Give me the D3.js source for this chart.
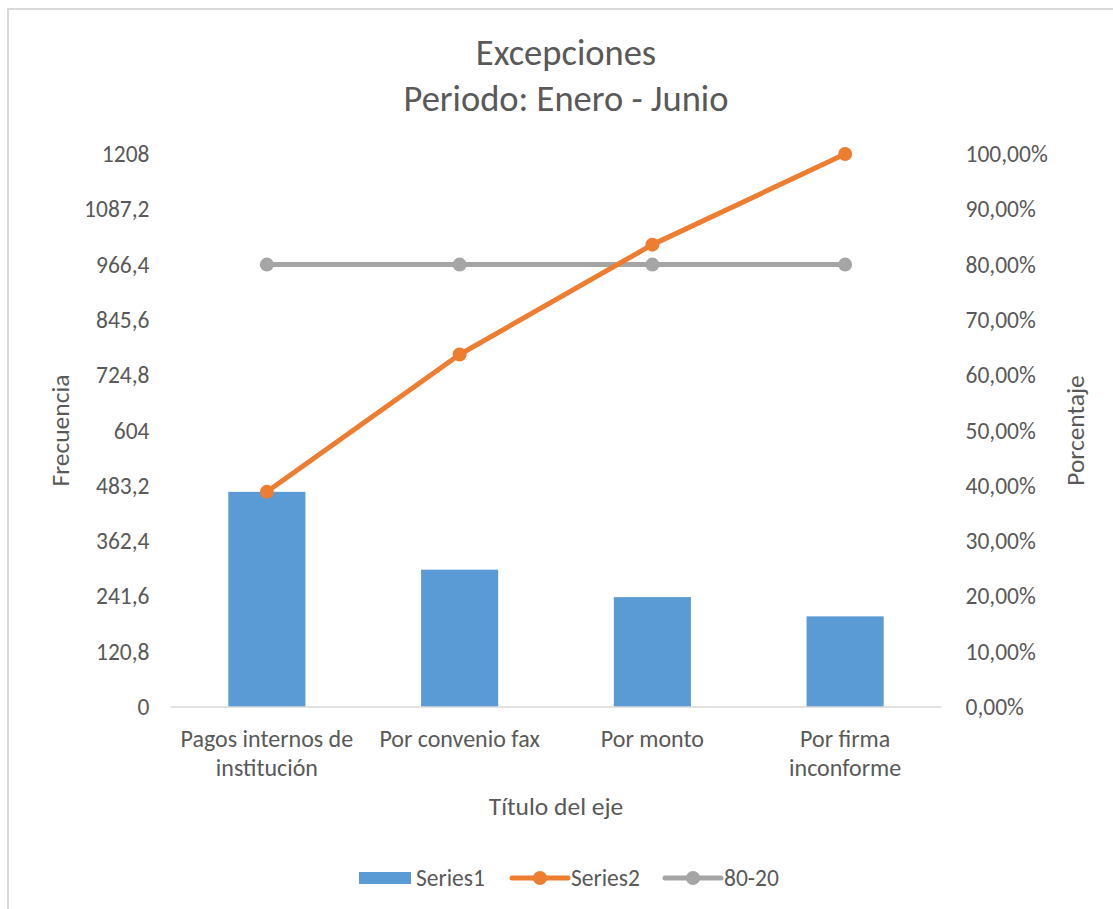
<!DOCTYPE html>
<html>
<head>
<meta charset="utf-8">
<script src="https://cdn.jsdelivr.net/npm/d3@7"></script>
<style>
  body { margin: 0; background: #fff; }
  text { font-family: Carlito, "Liberation Sans", Roboto, sans-serif; fill: #595959; }
</style>
</head>
<body>
<div id="chart"></div>
<script>
// data
const categories = ['Pagos internos de\ninstitución', 'Por convenio fax', 'Por monto', 'Por firma\ninconforme'];
const frequency = [470, 300, 240, 198];
const cumulative = [0.3891, 0.6374, 0.8361, 1.0];
const rule8020 = [0.8, 0.8, 0.8, 0.8];
const leftTicks = [0, 120.8, 241.6, 362.4, 483.2, 604, 724.8, 845.6, 966.4, 1087.2, 1208];
const rightTicks = [0, 0.1, 0.2, 0.3, 0.4, 0.5, 0.6, 0.7, 0.8, 0.9, 1.0];
const seriesNames = ['Series1', 'Series2', '80-20'];
const colors = ['#5b9bd5', '#ed7d31', '#a5a5a5'];

const width = 1113;
const height = 909;
const plot = { left: 170.5, right: 941.5, top: 154, bottom: 707 };

const locale = d3.formatLocale({ decimal: ',', thousands: '.', grouping: [3], currency: ['', '€'] });
const fmtLeft = (d) => (Number.isInteger(d) ? String(d) : locale.format('.1f')(d));
const fmtRight = locale.format('.2%');

const svg = d3.select('#chart').append('svg').attr('width', width).attr('height', height);

// chart frame (cropped on right and bottom)
svg.append('rect').attr('x', 8).attr('y', 9).attr('width', 1130).attr('height', 930)
  .attr('fill', '#fff').attr('stroke', '#d9d9d9').attr('stroke-width', 2);

const x = d3.scaleBand().domain(categories).range([plot.left, plot.right]).paddingInner(0.6).paddingOuter(0.3);
const xPoint = (c) => x(c) + x.bandwidth() / 2;
const yLeft = d3.scaleLinear().domain([0, 1208]).range([plot.bottom, plot.top]);
const yRight = d3.scaleLinear().domain([0, 1]).range([plot.bottom, plot.top]);

// title
const title = svg.append('text').attr('text-anchor', 'middle').attr('font-size', 36.5);
title.append('tspan').attr('x', 566).attr('y', 65).text('Excepciones');
title.append('tspan').attr('x', 566).attr('y', 111).text('Periodo: Enero - Junio');

// left axis
const leftAxis = svg.append('g').attr('transform', `translate(${plot.left},0)`)
  .call(d3.axisLeft(yLeft).tickValues(leftTicks).tickFormat(fmtLeft).tickSize(0).tickPadding(21));
leftAxis.select('.domain').remove();
leftAxis.selectAll('text').attr('font-size', 23.5).attr('fill', '#595959').style('font-family', null);

// right axis
const rightAxis = svg.append('g').attr('transform', `translate(${plot.right},0)`)
  .call(d3.axisRight(yRight).tickValues(rightTicks).tickFormat(fmtRight).tickSize(0).tickPadding(24));
rightAxis.select('.domain').remove();
rightAxis.selectAll('text').attr('font-size', 23.5).attr('fill', '#595959').style('font-family', null);

// bars
svg.append('g').selectAll('rect').data(frequency).join('rect')
  .attr('x', (d, i) => x(categories[i]))
  .attr('y', (d) => yLeft(d))
  .attr('width', x.bandwidth())
  .attr('height', (d) => yLeft(0) - yLeft(d))
  .attr('fill', colors[0]);

// x axis line
svg.append('line').attr('x1', plot.left).attr('x2', plot.right)
  .attr('y1', plot.bottom).attr('y2', plot.bottom)
  .attr('stroke', '#d9d9d9').attr('stroke-width', 1.5);

// category labels
const catG = svg.append('g');
categories.forEach((c) => {
  const t = catG.append('text').attr('text-anchor', 'middle').attr('font-size', 24);
  c.split('\n').forEach((line, j) => {
    t.append('tspan').attr('x', xPoint(c)).attr('y', 747 + j * 29).text(line);
  });
});

// lines
const lineGen = d3.line().x((d, i) => xPoint(categories[i])).y((d) => yRight(d));
[[rule8020, colors[2]], [cumulative, colors[1]]].forEach(([values, color]) => {
  const g = svg.append('g');
  g.append('path').datum(values).attr('d', lineGen)
    .attr('fill', 'none').attr('stroke', color).attr('stroke-width', 5).attr('stroke-linejoin', 'round');
  g.selectAll('circle').data(values).join('circle')
    .attr('cx', (d, i) => xPoint(categories[i]))
    .attr('cy', (d) => yRight(d))
    .attr('r', 7)
    .attr('fill', color);
});

// axis titles
const midY = (plot.top + plot.bottom) / 2;
svg.append('text').attr('transform', `translate(69,${midY}) rotate(-90)`)
  .attr('text-anchor', 'middle').attr('font-size', 25.5).text('Frecuencia');
svg.append('text').attr('transform', `translate(1084,${midY}) rotate(-90)`)
  .attr('text-anchor', 'middle').attr('font-size', 25.5).text('Porcentaje');
svg.append('text').attr('x', (plot.left + plot.right) / 2).attr('y', 815)
  .attr('text-anchor', 'middle').attr('font-size', 25.5).text('Título del eje');

// legend
const legend = svg.append('g').attr('transform', 'translate(0,878)');
legend.append('rect').attr('x', 359).attr('y', -6).attr('width', 52).attr('height', 12).attr('fill', colors[0]);
legend.append('text').attr('x', 416).attr('y', 8).attr('font-size', 23.5).text(seriesNames[0]);
[[512, colors[1], seriesNames[1]], [665, colors[2], seriesNames[2]]].forEach(([lx, color, name]) => {
  legend.append('line').attr('x1', lx).attr('x2', lx + 56).attr('y1', 0).attr('y2', 0)
    .attr('stroke', color).attr('stroke-width', 5).attr('stroke-linecap', 'round');
  legend.append('circle').attr('cx', lx + 28).attr('cy', 0).attr('r', 7).attr('fill', color);
  legend.append('text').attr('x', lx + 59).attr('y', 8).attr('font-size', 23.5).text(name);
});
</script>
</body>
</html>
